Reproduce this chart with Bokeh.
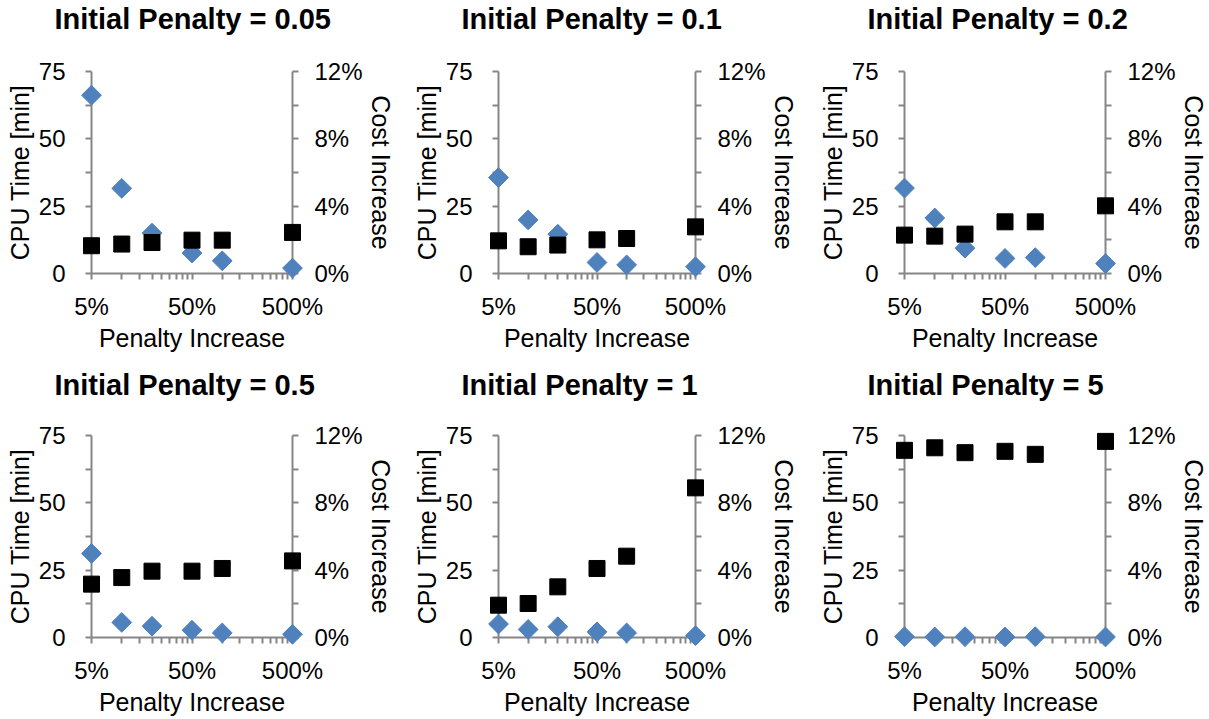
import math

from bokeh.core.properties import value
from bokeh.embed import file_html
from bokeh.layouts import column, row
from bokeh.models import FixedTicker, LinearAxis, NumeralTickFormatter, Range1d
from bokeh.plotting import figure
from bokeh.resources import INLINE

# Penalty increase steps (x values, as fractions)
penalty_increase = [0.05, 0.10, 0.20, 0.50, 1.00, 5.00]

# Initial penalty of each panel
initial_penalties = ["0.05", "0.1", "0.2", "0.5", "1", "5"]

# CPU time [min] per panel
cpu_005 = [66.2, 31.6, 15.0, 7.6, 4.7, 2.0]
cpu_01 = [35.6, 19.9, 14.6, 4.1, 3.2, 2.5]
cpu_02 = [31.7, 20.6, 9.4, 5.6, 5.9, 3.7]
cpu_05 = [31.2, 5.6, 4.2, 2.7, 1.7, 1.2]
cpu_1 = [5.0, 3.0, 4.0, 2.1, 1.7, 0.7]
cpu_5 = [0.3, 0.2, 0.3, 0.2, 0.3, 0.2]

# Cost increase (fraction) per panel
cost_005 = [0.0165, 0.0175, 0.0184, 0.0198, 0.0198, 0.0244]
cost_01 = [0.0194, 0.0159, 0.0169, 0.0200, 0.0208, 0.0277]
cost_02 = [0.0228, 0.0222, 0.0234, 0.0307, 0.0307, 0.0402]
cost_05 = [0.0317, 0.0356, 0.0394, 0.0394, 0.0410, 0.0455]
cost_1 = [0.0192, 0.0202, 0.0301, 0.0410, 0.0483, 0.0889]
cost_5 = [0.1112, 0.1127, 0.1098, 0.1106, 0.1088, 0.1165]

# Axis ticks
x_major = [0.05, 0.5, 5]
x_minor = [round(0.05 * k, 2) for k in range(2, 10)] + [round(0.5 * k, 2) for k in range(2, 10)]
cpu_major = [0, 25, 50, 75]
cpu_minor = [12.5, 37.5, 62.5]
cost_major = [0, 0.04, 0.08, 0.12]
cost_minor = [0.02, 0.06, 0.10]

FONT = "Liberation Sans"
AXIS_GRAY = "#868686"
BLUE = "#4F81BD"

# (border_left, frame_width, border_right) per column
COLS = [(91, 201, 108), (98, 197, 105), (104, 201, 104)]
# (border_top, frame_height, border_bottom, heading_gap) per row
ROWS = [(71, 202, 85, 53), (77, 202, 82, 51)]


def style_axis(ax, label, label_standoff):
    ax.axis_label = label
    ax.axis_label_text_font = FONT
    ax.axis_label_text_font_size = "25px"
    ax.axis_label_text_font_style = "normal"
    ax.axis_label_text_color = "black"
    ax.axis_label_standoff = label_standoff
    ax.major_label_text_font = FONT
    ax.major_label_text_font_size = "24px"
    ax.major_label_text_color = "black"
    ax.axis_line_color = AXIS_GRAY
    ax.axis_line_width = 2
    ax.major_tick_line_color = AXIS_GRAY
    ax.major_tick_line_width = 2
    ax.minor_tick_line_color = AXIS_GRAY
    ax.minor_tick_line_width = 2
    ax.major_tick_in = 0
    ax.major_tick_out = 6
    ax.minor_tick_in = 0
    ax.minor_tick_out = 6


def make_panel(penalty, cpu, cost, col, rw):
    bl, fw, br = col
    bt, fh, bb, gap = rw
    p = figure(
        x_axis_type="log",
        x_range=Range1d(0.05, 5),
        y_range=Range1d(0, 75),
        frame_width=fw,
        frame_height=fh,
        min_border_left=bl,
        min_border_right=br,
        min_border_top=bt,
        min_border_bottom=bb,
        output_backend="svg",
        toolbar_location=None,
        tools="",
    )
    p.extra_y_ranges = {"cost": Range1d(0, 0.12)}
    p.add_layout(LinearAxis(y_range_name="cost"), "right")
    p.grid.visible = False
    p.outline_line_color = None
    p.background_fill_color = "white"
    p.border_fill_color = "white"

    xax = p.xaxis[0]
    style_axis(xax, "Penalty Increase", 1)
    xax.ticker = FixedTicker(ticks=x_major, minor_ticks=x_minor)
    xax.formatter = NumeralTickFormatter(format="0%")
    xax.major_label_standoff = 13

    lax = p.yaxis[0]
    style_axis(lax, "CPU Time [min]", 2)
    lax.ticker = FixedTicker(ticks=cpu_major, minor_ticks=cpu_minor)
    lax.major_label_standoff = 20

    rax = p.yaxis[1]
    style_axis(rax, "Cost Increase", 1)
    rax.ticker = FixedTicker(ticks=cost_major, minor_ticks=cost_minor)
    rax.formatter = NumeralTickFormatter(format="0%")
    rax.major_label_standoff = 16

    r1 = p.scatter(penalty_increase, cpu, marker="square", angle=math.pi / 4, size=14,
                   fill_color=BLUE, line_color=BLUE)
    r2 = p.scatter(penalty_increase, cost, y_range_name="cost", marker="square", size=16,
                   fill_color="black", line_color="black")

    # panel heading, anchored above the top-left corner of the axes
    r3 = p.text(
        x=[x_major[0]], y=[cpu_major[-1]], text=[f"Initial Penalty = {penalty}"],
        x_offset=-37, y_offset=-gap,
        text_font=value(FONT), text_font_size="29px", text_font_style="bold",
        text_color="black", text_align="left", text_baseline="alphabetic",
    )

    # draw above the axes so that marks at the edges are not cut at the frame
    for r in (r1, r2, r3):
        r.level = "overlay"
    return p


cpu_sets = [cpu_005, cpu_01, cpu_02, cpu_05, cpu_1, cpu_5]
cost_sets = [cost_005, cost_01, cost_02, cost_05, cost_1, cost_5]

panels = []
for i, (pen, cpu, cost) in enumerate(zip(initial_penalties, cpu_sets, cost_sets)):
    panels.append(make_panel(pen, cpu, cost, COLS[i % 3], ROWS[i // 3]))

layout = column(row(panels[0], panels[1], panels[2]), row(panels[3], panels[4], panels[5]))

with open("out.html", "w") as f:
    f.write(file_html(layout, INLINE))
